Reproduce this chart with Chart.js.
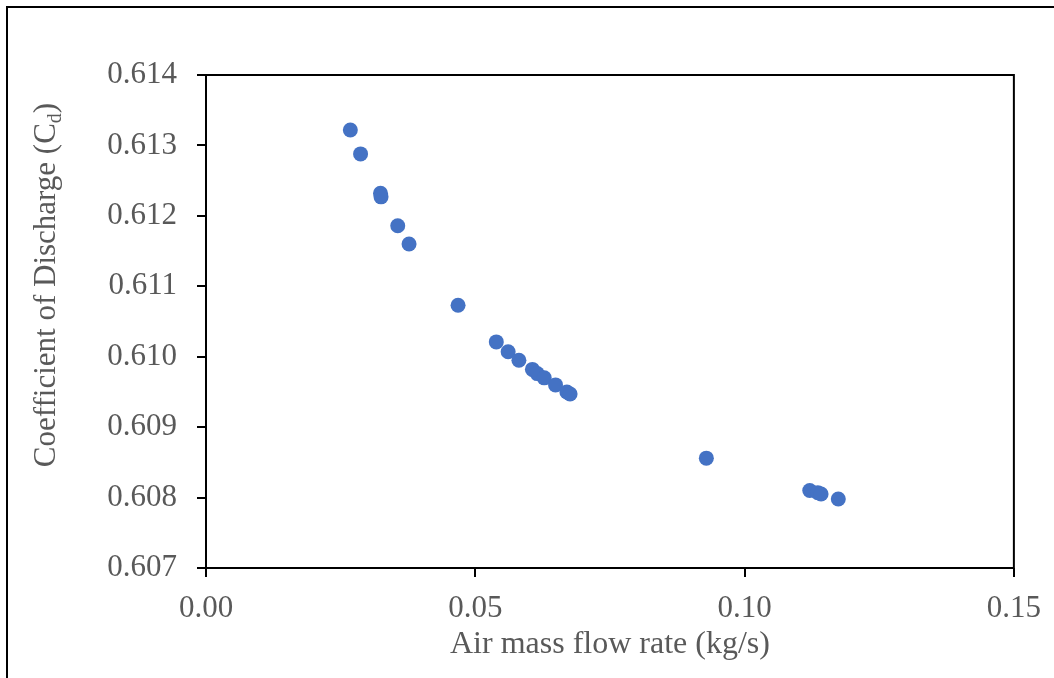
<!DOCTYPE html>
<html>
<head>
<meta charset="utf-8">
<script src="https://cdn.jsdelivr.net/npm/chart.js@4.4.1/dist/chart.umd.min.js"></script>
<style>
  html, body { margin: 0; padding: 0; background: #fff; }
  #wrap { position: relative; width: 1054px; height: 678px; overflow: hidden; }
  #frame { position: absolute; left: 6px; top: 6px; width: 1200px; height: 800px;
           border-left: 2px solid #000; border-top: 2px solid #000; }
  #chart { position: absolute; left: 0; top: 0; }
</style>
</head>
<body>
<div id="wrap">
  <div id="frame"></div>
  <canvas id="chart" width="1054" height="678"></canvas>
</div>
<script>
// Air mass flow rate (kg/s)
const flowRate = [0.0268, 0.0287, 0.0324, 0.0325, 0.0356, 0.0377, 0.0468, 0.0539, 0.0561, 0.0581,
  0.0606, 0.0615, 0.0628, 0.0649, 0.0670, 0.0676, 0.0929, 0.1121, 0.1136, 0.1142, 0.1174];
// Coefficient of discharge Cd
const dischargeCoef = [0.61322, 0.61288, 0.61232, 0.61227, 0.61186, 0.61160, 0.61073, 0.61021, 0.61007, 0.60995,
  0.60982, 0.60976, 0.60970, 0.60960, 0.60950, 0.60947, 0.60856, 0.60810, 0.60807, 0.60805, 0.60798];

const xTitle = 'Air mass flow rate (kg/s)';
const yTitleMain = 'Coefficient of Discharge (C';
const yTitleSub = 'd';
const yTitleEnd = ')';

const FONT = "'Liberation Serif', 'Times New Roman', serif";
const GREY = '#595959';

const points = flowRate.map((x, i) => ({ x: x, y: dischargeCoef[i] }));

// box round the plot area + y title with subscript
const decor = {
  id: 'decor',
  afterDraw(chart) {
    const { ctx, chartArea: a } = chart;
    ctx.save();
    ctx.strokeStyle = '#000';
    ctx.lineWidth = 2;
    ctx.strokeRect(a.left, a.top, a.right - a.left, a.bottom - a.top);

    ctx.translate(55, 285);
    ctx.rotate(-Math.PI / 2);
    ctx.fillStyle = GREY;
    ctx.textBaseline = 'alphabetic';
    ctx.font = '31px ' + FONT;
    const w1 = ctx.measureText(yTitleMain).width;
    const w3 = ctx.measureText(yTitleEnd).width;
    ctx.font = '20px ' + FONT;
    const w2 = ctx.measureText(yTitleSub).width;
    let x = -(w1 + w2 + w3) / 2;
    ctx.font = '31px ' + FONT;
    ctx.fillText(yTitleMain, x, 0);
    x += w1;
    ctx.font = '20px ' + FONT;
    ctx.fillText(yTitleSub, x, 6);
    x += w2;
    ctx.font = '31px ' + FONT;
    ctx.fillText(yTitleEnd, x, 0);
    ctx.restore();
  }
};

new Chart(document.getElementById('chart'), {
  type: 'scatter',
  data: {
    datasets: [{
      data: points,
      backgroundColor: '#4472C4',
      borderColor: '#4472C4',
      borderWidth: 0,
      pointRadius: 7.5
    }]
  },
  options: {
    responsive: false,
    animation: false,
    layout: { padding: { left: 0, top: 75, right: 38, bottom: 0 } },
    plugins: { legend: { display: false }, tooltip: { enabled: false } },
    scales: {
      x: {
        type: 'linear',
        min: 0,
        max: 0.15,
        afterFit: s => { s.height = 110; },
        border: { display: false },
        grid: { drawOnChartArea: false, drawTicks: true, tickLength: 9, color: '#000', lineWidth: 2 },
        ticks: {
          stepSize: 0.05,
          padding: 13,
          color: GREY,
          font: { family: FONT, size: 31 },
          callback: v => v.toFixed(2)
        },
        title: {
          display: true,
          text: xTitle,
          color: GREY,
          font: { family: FONT, size: 32 },
          padding: { top: 0, bottom: 14 }
        }
      },
      y: {
        min: 0.607,
        max: 0.614,
        afterFit: s => { s.width = 206; },
        border: { display: false },
        grid: { drawOnChartArea: false, drawTicks: true, tickLength: 9, color: '#000', lineWidth: 2 },
        ticks: {
          stepSize: 0.001,
          padding: 20,
          color: GREY,
          font: { family: FONT, size: 31 },
          callback: v => v.toFixed(3)
        }
      }
    }
  },
  plugins: [decor]
});
</script>
</body>
</html>
